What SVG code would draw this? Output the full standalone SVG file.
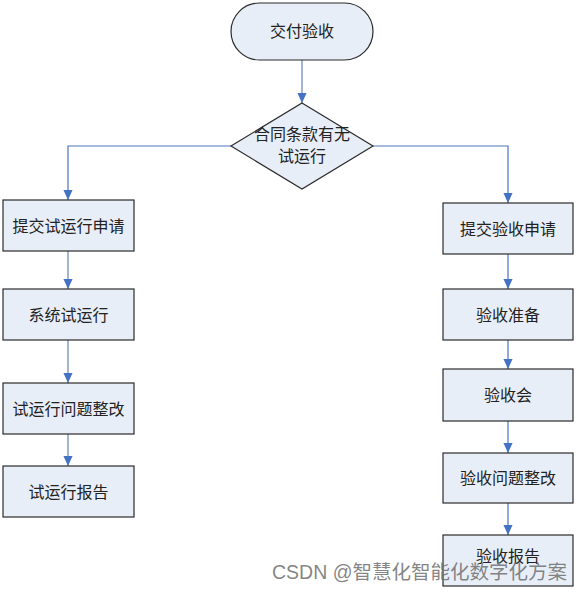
<svg xmlns="http://www.w3.org/2000/svg" width="578" height="591" viewBox="0 0 578 591">
<style>
.n{fill:#e8eef8;stroke:#2b2b2b;stroke-width:1.2}
.t{font-family:"Noto Sans CJK SC",sans-serif;font-size:16px;fill:#222;text-anchor:middle}
.c{fill:none;stroke:#4a76c0;stroke-width:1.2}
.cl{fill:none;stroke:#a3b5d3;stroke-width:2}
.wm{font-family:"Liberation Sans","Noto Sans CJK SC",sans-serif;font-size:19.5px;fill:#6e6e6e;fill-opacity:0.85}
</style>
<defs>
<marker id="ar" markerWidth="10" markerHeight="11" refX="11" refY="5" orient="auto" markerUnits="userSpaceOnUse" viewBox="0 0 11 10">
<path d="M0,0 L11,5 L0,10 Z" fill="#4472c4"/>
</marker>
</defs>
<g id="connectors">
<path class="cl" d="M302,60 V103" marker-end="url(#ar)"/>
<path class="c" d="M231,146 H68 V200" marker-end="url(#ar)"/>
<path class="c" d="M373,146 H508 V203" marker-end="url(#ar)"/>
<path class="cl" d="M68,251 V289" marker-end="url(#ar)"/>
<path class="cl" d="M68,340 V383" marker-end="url(#ar)"/>
<path class="cl" d="M68,434 V466" marker-end="url(#ar)"/>
<path class="c" d="M508,254 V289" marker-end="url(#ar)"/>
<path class="c" d="M508,340 V369" marker-end="url(#ar)"/>
<path class="c" d="M508,421 V453" marker-end="url(#ar)"/>
<path class="c" d="M508,503 V535" marker-end="url(#ar)"/>
</g>
<g id="start"><rect class="n" x="231" y="3" width="142" height="57" rx="28.5"/><text class="t" x="302" y="37">交付验收</text></g>
<g id="decision"><polygon class="n" points="302,103 373,146 302,189 231,146"/><text class="t" x="302" y="140">合同条款有无</text><text class="t" x="302" y="162">试运行</text></g>
<g id="l1"><rect class="n" x="3" y="200" width="131" height="51"/><text class="t" x="68.5" y="231.5">提交试运行申请</text></g>
<g id="l2"><rect class="n" x="3" y="289" width="131" height="51"/><text class="t" x="68.5" y="320.5">系统试运行</text></g>
<g id="l3"><rect class="n" x="3" y="383" width="131" height="51"/><text class="t" x="68.5" y="414.5">试运行问题整改</text></g>
<g id="l4"><rect class="n" x="3" y="466" width="131" height="51"/><text class="t" x="68.5" y="497.5">试运行报告</text></g>
<g id="r1"><rect class="n" x="443" y="203" width="130" height="51"/><text class="t" x="508" y="234.5">提交验收申请</text></g>
<g id="r2"><rect class="n" x="443" y="289" width="130" height="51"/><text class="t" x="508" y="320.5">验收准备</text></g>
<g id="r3"><rect class="n" x="443" y="369" width="130" height="52"/><text class="t" x="508" y="400.5">验收会</text></g>
<g id="r4"><rect class="n" x="443" y="453" width="130" height="50"/><text class="t" x="508" y="483.5">验收问题整改</text></g>
<g id="r5"><rect class="n" x="443" y="535" width="130" height="51"/><text class="t" x="508" y="562">验收报告</text></g>
<text class="wm" x="272" y="579">CSDN @智慧化智能化数字化方案</text>
</svg>
